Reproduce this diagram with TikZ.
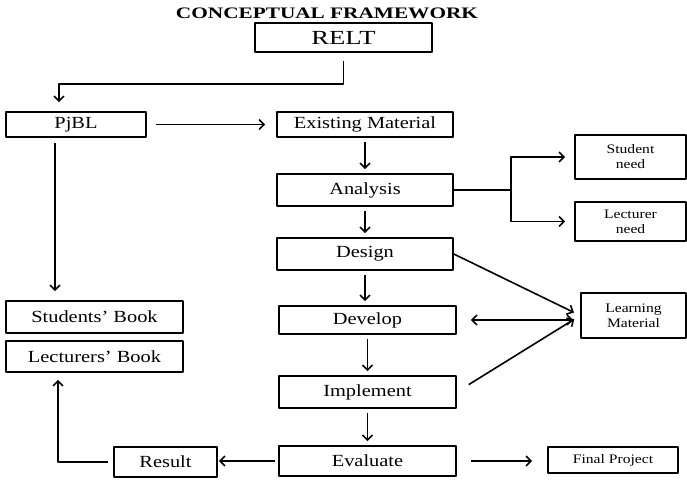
\documentclass[tikz,border=0pt]{standalone}
\usepackage{fontspec}
\setmainfont{Liberation Serif}[FakeStretch=1.2]
\newfontfamily\widefont{Liberation Serif}[FakeStretch=1.33]
\usetikzlibrary{arrows.meta}
\begin{document}
\begin{tikzpicture}[x=1pt, y=-1pt, line join=round, >={Straight Barb[length=5pt,width=10pt]},
	box/.style={draw, line width=1.6pt, inner sep=0pt, font=\fontsize{17}{20}\selectfont},
	smallbox/.style={box, align=center, font=\fontsize{13}{15}\selectfont},
	arr/.style={->, line width=1.6pt}]
	\useasboundingbox (0,0) rectangle (687,480);
	\node[font=\widefont\bfseries\fontsize{16}{18}\selectfont] (title) at (327,13) {CONCEPTUAL FRAMEWORK};
	\node[box, font=\widefont\fontsize{20}{22}\selectfont, minimum width=177pt, minimum height=29pt] (relt) at (343.5,37.5) {RELT};
	\foreach \n/\x/\y/\w/\h/\t in {pjbl/76/124.5/140/25/PjBL, exist/365/124.5/176/25/Existing Material,
		analysis/365/190/176/32/Analysis, design/365/254/176/32/Design, develop/367.5/320/177/28/Develop,
		implement/367.5/392/177/32/Implement, evaluate/367.5/461/177/30/Evaluate, result/165.5/462/103/30/Result,
		sbook/94.5/317/177/32/Students' Book, lbook/94.5/356.5/177/31/Lecturers' Book}{
		\node[box, minimum width=\w pt, minimum height=\h pt] (\n) at (\x,\y) {\t};
	}
	\node[smallbox, minimum width=111pt, minimum height=44pt] (sneed) at (630.5,157) {Student\\need};
	\node[smallbox, minimum width=111pt, minimum height=39pt] (lneed) at (630.5,221.5) {Lecturer\\need};
	\node[smallbox, minimum width=105pt, minimum height=45pt] (lmat) at (633.5,315.5) {Learning\\Material};
	\node[smallbox, minimum width=130pt, minimum height=26pt] (final) at (613,460) {Final Project};
	% connectors
	\draw[arr, shorten <=8pt, shorten >=9pt] (relt.south) -- ++(0,31) -| ([xshift=-17pt]pjbl.north);
	\draw[arr, shorten <=9pt, shorten >=11pt] (pjbl) -- (exist);
	\draw[arr, shorten <=5pt, shorten >=9pt] ([xshift=-21pt]pjbl.south) -- ([xshift=-21pt]pjbl.south |- sbook.north);
	\foreach \a/\b in {exist/analysis, analysis/design, design/develop, develop/implement, implement/evaluate}{
		\draw[arr, shorten <=4pt, shorten >=4pt] (\a.south) -- (\a.south |- \b.north);
	}
	\coordinate (fork) at (511,190);
	\draw[line width=1.6pt] (analysis.east) -- (fork);
	\draw[arr, shorten >=9pt] (fork) |- (sneed.west);
	\draw[arr, shorten >=9pt] (fork) |- (lneed.west);
	\draw[arr, shorten >=7pt] (design.east) -- (lmat.west);
	\draw[<->, line width=1.6pt, shorten <=14pt, shorten >=7pt] (develop.east) -- (develop.east -| lmat.west);
	\draw[arr, shorten <=14pt, shorten >=7pt] (implement.east) -- (lmat.west);
	\draw[arr, shorten <=14pt, shorten >=15pt] (evaluate.east) -- (evaluate.east -| final.west);
	\draw[arr, shorten <=3pt, shorten >=1pt] (evaluate.west) -- (evaluate.west -| result.east);
	\draw[arr, shorten <=5pt, shorten >=7pt] (result.west) -| ([xshift=-36.5pt]lbook.south);
\end{tikzpicture}
\end{document}
